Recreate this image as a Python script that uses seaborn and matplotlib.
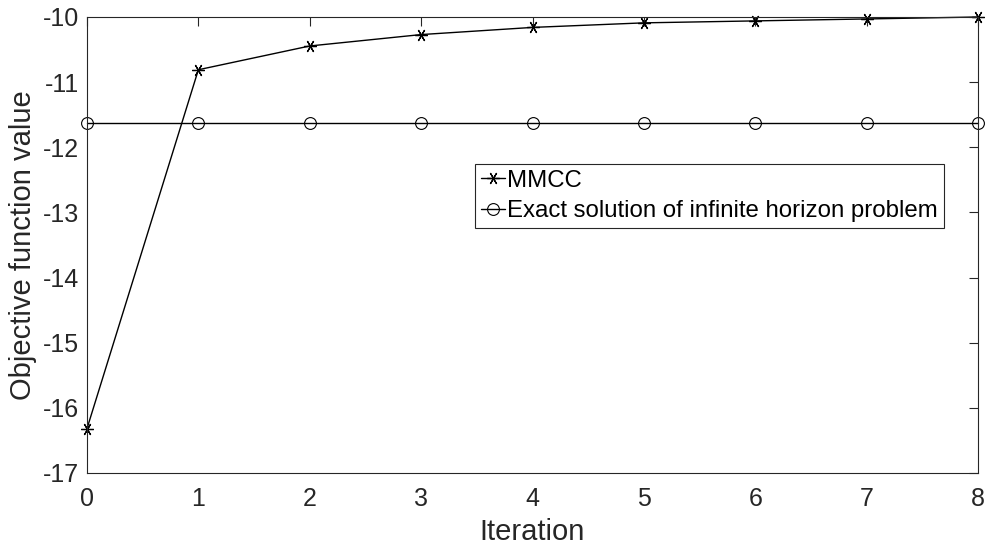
import numpy as np
import pandas as pd
import matplotlib
matplotlib.use('Agg')
import matplotlib.pyplot as plt
import seaborn as sns

# 数据
iterations = [0, 1, 2, 3, 4, 5, 6, 7, 8]
mmcc = [-16.32, -10.81, -10.445, -10.27, -10.16, -10.09, -10.06, -10.03, -10.0]
exact = [-11.62] * 9

sns.set_style('white')
plt.rcParams['font.family'] = ['Liberation Sans', 'DejaVu Sans']
plt.rcParams['axes.unicode_minus'] = False

df = pd.DataFrame({'Iteration': iterations, 'MMCC': mmcc, 'Exact': exact})

fig = plt.figure(figsize=(9.85, 5.48), dpi=100)
ax = fig.add_axes([0.0883, 0.137, 0.9047, 0.832])

sns.lineplot(data=df, x='Iteration', y='MMCC', ax=ax, color='black', lw=1,
             marker=(6, 2, 90), markersize=9, markeredgewidth=0.9,
             markeredgecolor='black', label='MMCC')
sns.lineplot(data=df, x='Iteration', y='Exact', ax=ax, color='black', lw=1,
             marker='o', markersize=8.5, markerfacecolor='none',
             markeredgecolor='black', markeredgewidth=0.8,
             label='Exact solution of infinite horizon problem')

ax.set_xlim(0, 8)
ax.set_ylim(-17, -10)
ax.set_xticks(range(0, 9))
ax.set_yticks(range(-17, -9))
ax.set_xlabel('Iteration', fontsize=21, color='#262626', labelpad=5)
ax.set_ylabel('Objective function value', fontsize=21, color='#262626', labelpad=4)
ax.tick_params(direction='in', length=6.5, width=0.8, labelsize=18,
               top=True, right=True, colors='#262626', labelcolor='#262626')
ax.tick_params(axis='x', pad=10)
ax.tick_params(axis='y', pad=6)
for s in ax.spines.values():
    s.set_visible(True)
    s.set_color('#262626')
    s.set_linewidth(0.8)
for m in ax.lines:
    m.set_clip_on(False)

leg = ax.legend(loc='upper left', bbox_to_anchor=(0.435, 0.678), fontsize=17.3,
                frameon=True, fancybox=False, framealpha=1, handlelength=1.0,
                handletextpad=0.1, borderpad=0.25, labelspacing=0.35,
                borderaxespad=0)
leg.get_frame().set_edgecolor('#262626')
leg.get_frame().set_linewidth(0.8)
for t in leg.get_texts():
    t.set_color('black')

fig.savefig('out.png', dpi=100)
